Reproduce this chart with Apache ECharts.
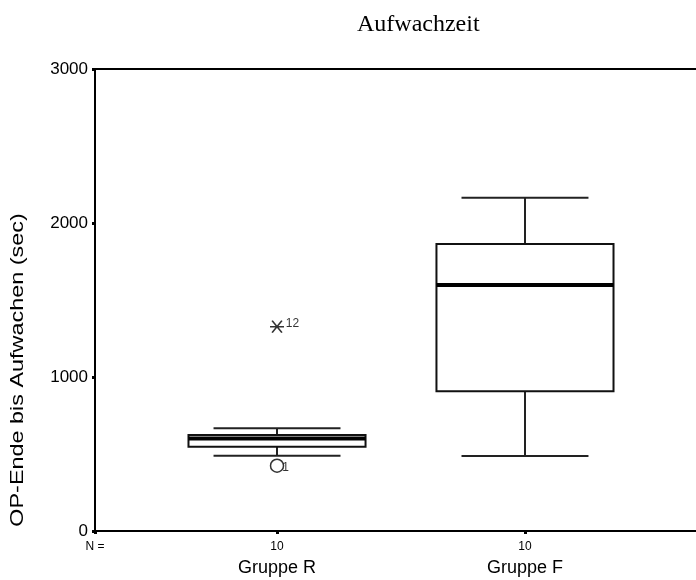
<!DOCTYPE html>
<html>
<head>
<meta charset="utf-8">
<script src="https://cdn.jsdelivr.net/npm/echarts@6/dist/echarts.min.js"></script>
<style>
  html, body { margin: 0; padding: 0; background: #fff; }
  #main { width: 696px; height: 580px; }
</style>
</head>
<body>
<div id="main"></div>
<script>
// Gruppen und Fallzahlen
var groups = ['Gruppe R', 'Gruppe F'];
var counts = [10, 10];
var groupPos = [1, 2];
// [min, Q1, Median, Q3, max] in sec
var boxR = [489, 547, 601, 623, 667];
var boxF = [487, 907, 1597, 1864, 2164];
// Ausreisser: [x, wert, fallnummer]
var outliers = [[1, 424, '1']];
var extremes = [[1, 1327, '12']];
var yTicks = [0, 1000, 2000, 3000];

var myChart = echarts.init(document.getElementById('main'));

var boxData = [
  [groupPos[0]].concat(boxR),
  [groupPos[1]].concat(boxF)
];

function renderBox(params, api) {
  var x = api.value(0);
  var lo = api.coord([x, api.value(1)]);
  var q1 = api.coord([x, api.value(2)]);
  var med = api.coord([x, api.value(3)]);
  var q3 = api.coord([x, api.value(4)]);
  var hi = api.coord([x, api.value(5)]);
  var bw = api.size([0.714, 0])[0];
  var cw = api.size([0.512, 0])[0];
  var cx = q1[0];
  var line = { stroke: '#222', lineWidth: 2 };
  return {
    type: 'group',
    children: [
      { type: 'line', shape: { x1: cx, y1: hi[1], x2: cx, y2: q3[1] }, style: line },
      { type: 'line', shape: { x1: cx, y1: q1[1], x2: cx, y2: lo[1] }, style: line },
      { type: 'line', shape: { x1: cx - cw / 2, y1: hi[1], x2: cx + cw / 2, y2: hi[1] }, style: line },
      { type: 'line', shape: { x1: cx - cw / 2, y1: lo[1], x2: cx + cw / 2, y2: lo[1] }, style: line },
      { type: 'rect', shape: { x: cx - bw / 2, y: q3[1], width: bw, height: q1[1] - q3[1] },
        style: { fill: '#fff', stroke: '#111', lineWidth: 2 } },
      { type: 'line', shape: { x1: cx - bw / 2, y1: med[1], x2: cx + bw / 2, y2: med[1] },
        style: { stroke: '#000', lineWidth: 4 } }
    ]
  };
}

var option = {
  backgroundColor: '#fff',
  animation: false,
  title: {
    text: 'Aufwachzeit',
    left: 352,
    top: 8,
    textStyle: { fontFamily: 'Liberation Serif', fontWeight: 'normal', fontSize: 24, color: '#000' }
  },
  graphic: [{
    type: 'text',
    x: 18,
    y: 370,
    rotation: Math.PI / 2,
    scaleX: 1.3,
    style: {
      text: 'OP-Ende bis Aufwachen (sec)',
      font: '18px "Liberation Sans"',
      fill: '#000',
      align: 'center',
      verticalAlign: 'middle'
    }
  }],
  grid: {
    left: 95,
    top: 69,
    width: 612,
    bottom: 49,
    outerBoundsMode: 'none',
    show: true,
    borderColor: '#000',
    borderWidth: 2,
    backgroundColor: '#fff'
  },
  xAxis: {
    type: 'value',
    min: 0.266,
    max: 2.734,
    splitLine: { show: false },
    axisLine: { lineStyle: { color: '#000', width: 2 } },
    axisTick: { customValues: [0.266, 1, 2], length: 3, lineStyle: { color: '#000', width: 3 } },
    axisLabel: {
      customValues: [0.266, 1, 2],
      margin: 8,
      color: '#000',
      formatter: function (v) {
        for (var i = 0; i < groupPos.length; i++) {
          if (v === groupPos[i]) return '{n|' + counts[i] + '}\n{g|' + groups[i] + '}';
        }
        return '{n|N =}\n{g| }';
      },
      rich: {
        n: { fontFamily: 'Liberation Sans', fontSize: 12, lineHeight: 16, color: '#000' },
        g: { fontFamily: 'Liberation Sans', fontSize: 18, lineHeight: 26, color: '#000' }
      }
    }
  },
  yAxis: {
    type: 'value',
    min: 0,
    max: 3000,
    interval: 1000,
    splitLine: { show: false },
    axisLine: { show: true, lineStyle: { color: '#000', width: 2 } },
    axisTick: { show: true, length: 3, lineStyle: { color: '#000', width: 3 } },
    axisLabel: {
      margin: 7,
      color: '#000',
      fontFamily: 'Liberation Sans',
      fontSize: 17,
      customValues: yTicks,
      formatter: function (v) { return String(v); }
    }
  },
  series: [
    {
      type: 'custom',
      renderItem: renderBox,
      data: boxData,
      encode: { x: 0, y: [1, 2, 3, 4, 5] },
      z: 3
    },
    {
      type: 'scatter',
      data: outliers,
      symbol: 'circle',
      symbolSize: 13,
      itemStyle: { color: '#fff', borderColor: '#000', borderWidth: 1.5 },
      label: {
        show: true, position: 'right', distance: -2, offset: [0, 2],
        formatter: function (p) { return p.data[2]; },
        color: '#000', fontFamily: 'Liberation Sans', fontSize: 12
      },
      z: 5
    },
    {
      type: 'scatter',
      data: extremes,
      symbol: 'path://M0,5L10,5M1.5,0.5L8.5,9.5M8.5,0.5L1.5,9.5',
      symbolSize: [14, 12],
      itemStyle: { color: 'none', borderColor: '#000', borderWidth: 1.6 },
      label: {
        show: true, position: 'right', distance: -1, offset: [0, -3],
        formatter: function (p) { return p.data[2]; },
        color: '#000', fontFamily: 'Liberation Sans', fontSize: 12
      },
      z: 5
    }
  ]
};
myChart.setOption(option);
</script>
</body>
</html>
